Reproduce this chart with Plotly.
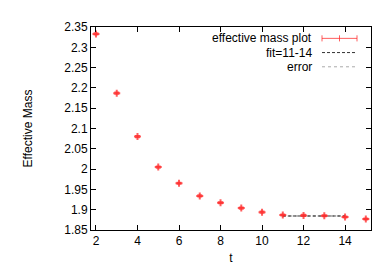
import plotly.graph_objects as go

t_vals = [2, 3, 4, 5, 6, 7, 8, 9, 10, 11, 12, 13, 14, 15]
meff = [2.333, 2.187, 2.080, 2.005, 1.965, 1.934, 1.917, 1.904, 1.894, 1.887, 1.886, 1.885, 1.882, 1.877]
meff_err = [0.002, 0.002, 0.002, 0.002, 0.002, 0.002, 0.002, 0.002, 0.002, 0.002, 0.002, 0.002, 0.002, 0.002]
fit_t = [11, 14]
fit_val = [1.8845, 1.8845]
err_upper = [1.8852, 1.8852]
err_lower = [1.8838, 1.8838]

x_ticks = [2, 4, 6, 8, 10, 12, 14]
y_ticks = [1.85, 1.9, 1.95, 2.0, 2.05, 2.1, 2.15, 2.2, 2.25, 2.3, 2.35]
y_tick_text = ["1.85", "1.9", "1.95", "2", "2.05", "2.1", "2.15", "2.2", "2.25", "2.3", "2.35"]

font = "Liberation Sans, Arial, sans-serif"
red = "rgba(255,40,40,0.75)"

fig = go.Figure()
fig.add_trace(go.Scatter(x=fit_t, y=err_upper, mode="lines",
                         line=dict(color="#aaaaaa", width=1, dash="dot"), showlegend=False))
fig.add_trace(go.Scatter(x=fit_t, y=err_lower, mode="lines",
                         line=dict(color="#aaaaaa", width=1, dash="dot"), showlegend=False))
fig.add_trace(go.Scatter(x=fit_t, y=fit_val, mode="lines",
                         line=dict(color="#333333", width=1, dash="3px,2px"), showlegend=False))
fig.add_trace(go.Scatter(x=t_vals, y=meff, mode="markers",
                         marker=dict(symbol="cross-thin", size=5, line=dict(color=red, width=2), color=red),
                         error_y=dict(type="data", array=meff_err, color=red, thickness=1.5, width=2.5),
                         showlegend=False))

# manual gnuplot-style key
labels = ["effective mass plot", "fit=11-14", "error"]
ys = [0.944, 0.874, 0.804]
for lab, yy in zip(labels, ys):
    fig.add_annotation(x=0.793, y=yy, xref="paper", yref="paper", text=lab, showarrow=False,
                       xanchor="right", yanchor="middle", borderpad=0,
                       font=dict(family=font, size=12, color="black"))
x0, x1 = 0.825, 0.95
fig.add_shape(type="line", xref="paper", yref="paper", x0=x0, x1=x1, y0=ys[0], y1=ys[0],
              line=dict(color=red, width=1))
for xx in [x0, (x0 + x1) / 2, x1]:
    fig.add_shape(type="line", xref="paper", yref="paper", x0=xx, x1=xx, y0=ys[0] - 0.015, y1=ys[0] + 0.015,
                  line=dict(color=red, width=1))
fig.add_shape(type="line", xref="paper", yref="paper", x0=x0, x1=x1, y0=ys[1], y1=ys[1],
              line=dict(color="#333333", width=1, dash="3px,2px"))
fig.add_shape(type="line", xref="paper", yref="paper", x0=x0, x1=x1, y0=ys[2], y1=ys[2],
              line=dict(color="#aaaaaa", width=1, dash="dot"))

axis_common = dict(showline=True, linecolor="black", linewidth=1, mirror="ticks", ticks="inside",
                   ticklen=5, tickcolor="black", showgrid=False, zeroline=False,
                   tickfont=dict(family=font, size=12, color="black"))
fig.update_xaxes(range=[1.76, 15.25], tickvals=x_ticks,
                 title=dict(text="t", font=dict(family=font, size=12, color="black"), standoff=6),
                 **axis_common)
fig.update_yaxes(range=[1.85, 2.35], tickvals=y_ticks, ticktext=y_tick_text,
                 title=dict(text="Effective Mass", font=dict(family=font, size=12, color="black"), standoff=29),
                 **axis_common)
fig.update_layout(width=382, height=267, margin=dict(l=83, r=19, t=14, b=39),
                  paper_bgcolor="white", plot_bgcolor="white", showlegend=False,
                  font=dict(family=font, size=12, color="black"))
fig.write_html("out.html")
